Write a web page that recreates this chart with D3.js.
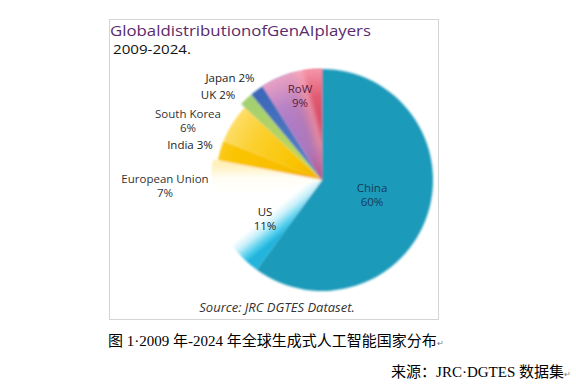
<!DOCTYPE html>
<html><head><meta charset="utf-8">
<script src="https://cdn.jsdelivr.net/npm/d3@7"></script>
<style>body{margin:0;background:#fff;}svg{display:block;}</style>
</head><body>
<script>
const categories = ["China","US","European Union","India","South Korea","UK","Japan","RoW"];
const values = [60, 11, 7, 3, 6, 2, 2, 9];
const labelLines = [["China","60%"],["US","11%"],["European Union","7%"],["India 3%"],["South Korea","6%"],["UK 2%"],["Japan 2%"],["RoW","9%"]];
const titleText = "GlobaldistributionofGenAIplayers";
const subtitleText = "2009-2024.";
const sourceText = "Source: JRC DGTES Dataset.";
const captionText = "图 1·2009 年-2024 年全球生成式人工智能国家分布";
const creditText = "来源：JRC·DGTES 数据集";

const W = 576, H = 385;
const svg = d3.select("body").append("svg").attr("width", W).attr("height", H);
const defs = svg.append("defs");

// frame
svg.append("rect").attr("x",109.5).attr("y",19.5).attr("width",329).attr("height",300)
  .attr("fill","#fff").attr("stroke","#d4d4d4").attr("stroke-width",1);

svg.append("text").attr("x",110).attr("y",36).attr("fill","#5a2a6c")
  .attr("font-family","Open Sans, Noto Sans, sans-serif").attr("font-size",15)
  .attr("textLength",261).attr("lengthAdjust","spacingAndGlyphs").text(titleText);
svg.append("text").attr("x",113).attr("y",54).attr("fill","#111")
  .attr("font-family","Open Sans, Noto Sans, sans-serif").attr("font-size",13)
  .attr("textLength",78).attr("lengthAdjust","spacingAndGlyphs").text(subtitleText);

const cx = 322, cy = 180, R = 111;
const g = svg.append("g").attr("transform",`translate(${cx},${cy})`);

const pie = d3.pie().sort(null).value(d=>d)(values);
const arc = d3.arc().innerRadius(0).outerRadius(R);

function pt(angleDeg, r){ const a = angleDeg*Math.PI/180; return [r*Math.sin(a), -r*Math.cos(a)]; }
function linGrad(id, a1, r1, a2, r2, stops){
  const p1 = pt(a1,r1), p2 = pt(a2,r2);
  const gr = defs.append("linearGradient").attr("id",id).attr("gradientUnits","userSpaceOnUse")
    .attr("x1",p1[0]).attr("y1",p1[1]).attr("x2",p2[0]).attr("y2",p2[1]);
  stops.forEach(s=>gr.append("stop").attr("offset",s[0]).attr("stop-color",s[1]));
  return `url(#${id})`;
}
function radGrad(id, stops){
  const gr = defs.append("radialGradient").attr("id",id).attr("gradientUnits","userSpaceOnUse")
    .attr("cx",0).attr("cy",0).attr("r",R);
  stops.forEach(s=>gr.append("stop").attr("offset",s[0]).attr("stop-color",s[1]));
  return `url(#${id})`;
}
const fills = [
  "#1f9aba",
  linGrad("gUS", 217, 70, 245, 70, [[0,"#22b4dc"],[0.18,"#55cfee"],[0.45,"#c8f0fa"],[0.7,"#ffffff"],[1,"#ffffff"]]),
  linGrad("gEU", 258, 70, 282, 70, [[0,"#ffffff"],[0.6,"#fffdf3"],[1,"#fff0bc"]]),
  radGrad("gIN", [[0,"#f4a400"],[0.3,"#f8bc00"],[0.8,"#fac400"],[1,"#fbcb20"]]),
  radGrad("gSK", [[0,"#f6b000"],[0.3,"#f9c400"],[0.7,"#fbd030"],[1,"#fedf70"]]),
  radGrad("gUK", [[0,"#c8d850"],[1,"#a2cf72"]]),
  radGrad("gJP", [[0,"#5a86c8"],[1,"#3b66b8"]]),
  linGrad("gRW", 330, 60, 358, 60, [[0,"#a77ac8"],[0.45,"#b07ab8"],[0.8,"#e3879e"],[1,"#d9475f"]])
];
const blur = defs.append("filter").attr("id","soft").attr("x","-10%").attr("y","-10%").attr("width","120%").attr("height","120%");
blur.append("feGaussianBlur").attr("stdDeviation",0.8);

g.append("g").attr("filter","url(#soft)").selectAll("path").data(pie).join("path")
  .attr("d",(d,i)=> i===3||i===4 ? d3.arc().innerRadius(0).outerRadius(R*0.955)(d) : arc(d))
  .attr("fill",(d,i)=>fills[i]);

// pink overlay on outer part of RoW
const rowGrad = defs.append("radialGradient").attr("id","gRWo").attr("gradientUnits","userSpaceOnUse")
  .attr("cx",0).attr("cy",0).attr("r",R);
[[0,"rgba(200,40,80,0.55)"],[0.35,"rgba(180,90,170,0.0)"],[0.75,"rgba(255,170,190,0.2)"],[1,"rgba(255,175,195,0.75)"]]
  .forEach(s=>rowGrad.append("stop").attr("offset",s[0]).attr("stop-color",s[1]));
g.append("path").attr("d",arc(pie[7])).attr("fill","url(#gRWo)").attr("filter","url(#soft)");

// labels
const labelPos = [[372,188],[265,212],[165,179],[190,145],[188,114],[218,95],[230,78],[300,89]];
const labelColor = ["#163a5c","#222","#333","#222","#333","#222","#222","#5a1e3c"];
const lg = svg.append("g").attr("font-family","Open Sans, Noto Sans, sans-serif").attr("font-size",11.5).attr("text-anchor","middle");
labelLines.forEach((lines,i)=>{
  const t = lg.append("text").attr("x",labelPos[i][0]).attr("y",labelPos[i][1]+4).attr("fill",labelColor[i]);
  lines.forEach((l,j)=> t.append("tspan").attr("x",labelPos[i][0]).attr("dy", j===0?0:13.5).text(l));
});

svg.append("text").attr("x",277).attr("y",312).attr("text-anchor","middle").attr("fill","#333")
  .attr("font-family","Open Sans, Noto Sans, sans-serif").attr("font-size",13).attr("font-style","italic")
  .text(sourceText);

const cap = svg.append("text").attr("x",108).attr("y",346).attr("fill","#000")
  .attr("font-family","Liberation Serif, Noto Sans CJK SC, serif").attr("font-size",15);
cap.append("tspan").text(captionText);
cap.append("tspan").attr("font-size",8).attr("fill","#777").attr("font-family","Noto Sans, sans-serif").text("↵");

const cr = svg.append("text").attr("x",571).attr("y",377).attr("text-anchor","end").attr("fill","#000")
  .attr("font-family","Liberation Serif, Noto Sans CJK SC, serif").attr("font-size",15);
cr.append("tspan").text(creditText);
cr.append("tspan").attr("font-size",8).attr("fill","#777").attr("font-family","Noto Sans, sans-serif").text("↵");
</script>
</body></html>
